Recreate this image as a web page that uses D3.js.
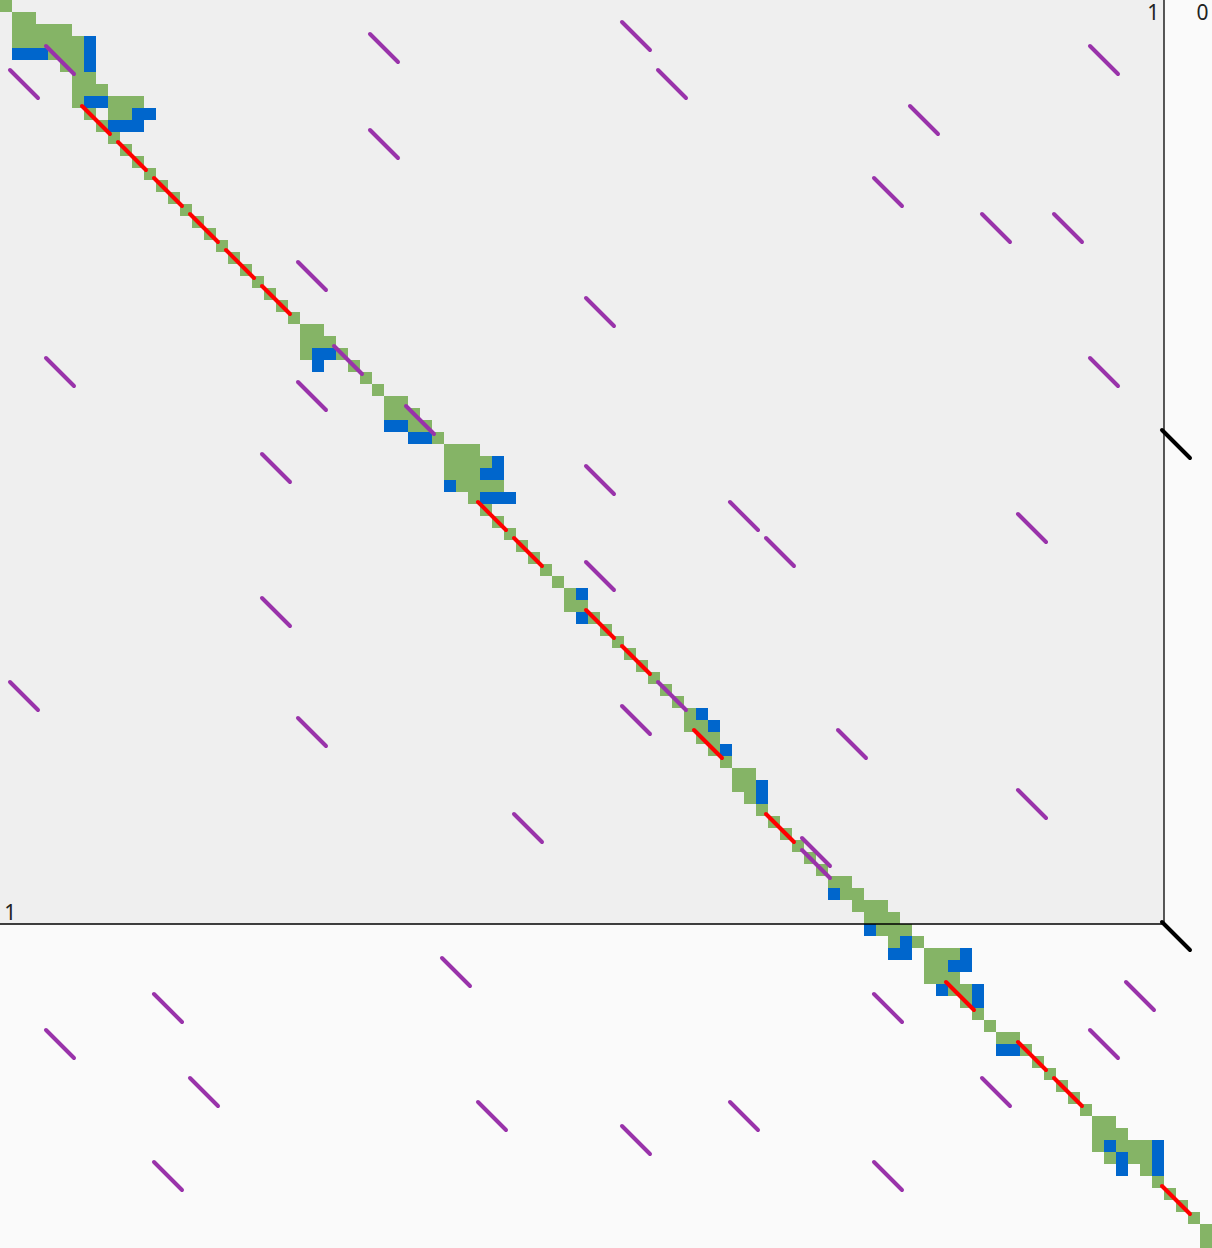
<!DOCTYPE html>
<html><head><meta charset="utf-8">
<script src="https://cdn.jsdelivr.net/npm/d3@7"></script>
<style>html,body{margin:0;padding:0;background:#fafafa;overflow:hidden}</style>
</head><body>
<script>
// grid dimensions (columns x rows)
const nCols = 101, nRows = 104;
const regionCols = 97, regionRows = 77;
// green cells: [row, firstCol, lastCol]
const greenRuns = [
[0,0,0],[1,1,2],[2,1,5],[3,1,6],[4,4,6],[5,5,6],[6,6,7],[7,6,8],[8,6,6],[8,9,11],[9,7,7],[9,9,10],[10,8,8],
[11,9,9],[12,10,10],[13,11,11],[14,12,12],[15,13,13],[16,14,14],[17,15,15],[18,16,16],[19,17,17],[20,18,18],
[21,19,19],[22,20,20],[23,21,21],[24,22,22],[25,23,23],[26,24,24],
[27,25,26],[28,25,27],[29,25,25],[29,28,28],[30,29,29],[31,30,30],[32,31,31],[33,32,33],[34,32,34],[35,34,35],
[36,36,36],[37,37,39],[38,37,40],[39,37,39],[40,38,41],[41,39,39],[42,40,40],[43,41,41],[44,42,42],[45,43,43],
[46,44,44],[47,45,45],[48,46,46],[49,47,47],[50,47,48],[51,49,49],[52,50,50],[53,51,51],[54,52,52],[55,53,53],
[56,54,54],[57,55,55],[58,56,56],[59,57,57],[60,57,58],[61,58,59],[62,59,59],[63,60,60],[64,61,62],[65,61,62],
[66,62,62],[67,63,63],[68,64,64],[69,65,65],[70,66,66],[71,67,67],[72,68,68],[73,69,70],[74,70,71],[75,71,73],
[76,72,74],[77,73,75],[78,74,74],[78,76,76],[79,77,79],[80,77,78],[81,77,79],[82,79,80],[83,80,80],[84,81,81],
[85,82,82],[86,83,84],[87,85,85],[88,86,86],[89,87,87],[90,88,88],[91,89,89],[92,90,90],[93,91,92],[94,91,93],
[95,91,91],[95,93,95],[96,92,92],[96,94,95],[97,95,95],[98,96,96],[99,97,97],[100,98,98],[101,99,99],
[102,100,100],[103,100,100]
];
// blue cells: [row, firstCol, lastCol]
const blueRuns = [
[3,7,7],[4,1,3],[4,7,7],[5,7,7],[8,7,8],[9,11,12],[10,9,11],[29,26,27],[30,26,26],[35,32,33],[36,34,35],
[38,41,41],[39,40,41],[40,37,37],[41,40,42],[49,48,48],[51,48,48],[59,58,58],[60,59,59],[62,60,60],
[65,63,63],[66,63,63],[74,69,69],[77,72,72],[78,75,75],[79,74,75],[79,80,80],[80,79,80],[82,78,78],
[82,81,81],[83,81,81],[87,83,84],[95,92,92],[95,96,96],[96,93,93],[96,96,96],[97,93,93],[97,96,96]
];
// diagonal segments (3 cells long): [col, row]
const redSegs = [[6,8],[9,11],[12,14],[15,17],[18,20],[21,23],[39,41],[42,44],[48,50],[51,53],[57,60],[63,67],
[78,81],[84,86],[87,89],[96,98]];
const purpleSegs = [[30,2],[51,1],[54,5],[90,3],[0,5],[3,3],[75,8],[30,10],[72,14],[81,17],[87,17],[24,21],
[48,24],[3,29],[90,29],[27,28],[24,31],[33,33],[21,37],[48,38],[60,41],[63,44],[84,42],[48,46],[21,49],
[0,56],[51,58],[54,56],[24,59],[69,60],[84,65],[42,67],[66,69],[66,70],[36,79],[12,82],[3,85],[72,82],
[93,81],[90,85],[15,89],[39,91],[60,91],[81,89],[51,93],[12,96],[72,96]];
const blackSegs = [[96,35],[96,76]];
const labels = [
  {t:"1", c:96.6, r:1.65, anchor:"end"},
  {t:"0", c:100.2, r:1.65, anchor:"middle"},
  {t:"1", c:0.35, r:76.7, anchor:"start"}
];

const W = 1212, H = 1248;
const x = d3.scaleLinear().domain([0, nCols]).range([0, W]);
const y = d3.scaleLinear().domain([0, nRows]).range([0, H]);

const svg = d3.select("body").append("svg").attr("width", W).attr("height", H)
  .style("display","block");

svg.append("rect").attr("width", W).attr("height", H).attr("fill", "#fafafa");
svg.append("rect").attr("x", x(0)).attr("y", y(0))
  .attr("width", x(regionCols) - x(0)).attr("height", y(regionRows) - y(0)).attr("fill", "#efefef");

function cells(runs) {
  const out = [];
  runs.forEach(([r, c0, c1]) => { for (let c = c0; c <= c1; c++) out.push([c, r]); });
  return out;
}
svg.append("g").selectAll("rect").data(cells(greenRuns)).join("rect")
  .attr("x", d => x(d[0])).attr("y", d => y(d[1]))
  .attr("width", x(1) - x(0)).attr("height", y(1) - y(0)).attr("fill", "#85b466");
svg.append("g").selectAll("rect").data(cells(blueRuns)).join("rect")
  .attr("x", d => x(d[0])).attr("y", d => y(d[1]))
  .attr("width", x(1) - x(0)).attr("height", y(1) - y(0)).attr("fill", "#0066cc");

// region borders
svg.append("line").attr("x1", x(regionCols)).attr("x2", x(regionCols)).attr("y1", y(0)).attr("y2", y(regionRows))
  .attr("stroke", "#000").attr("stroke-width", 1.3);
svg.append("line").attr("x1", x(0)).attr("x2", x(regionCols)).attr("y1", y(regionRows)).attr("y2", y(regionRows))
  .attr("stroke", "#000").attr("stroke-width", 1.3);

function segs(data, color) {
  svg.append("g").selectAll("line").data(data).join("line")
    .attr("x1", d => x(d[0] + 0.8333)).attr("y1", d => y(d[1] + 0.8333))
    .attr("x2", d => x(d[0] + 3.1667)).attr("y2", d => y(d[1] + 3.1667))
    .attr("stroke", color).attr("stroke-width", 4).attr("stroke-linecap", "round");
}
segs(purpleSegs, "#9933aa");
segs(redSegs, "#ff0000");
segs(blackSegs, "#000000");

svg.append("g").selectAll("text").data(labels).join("text")
  .attr("x", d => x(d.c)).attr("y", d => y(d.r))
  .attr("text-anchor", d => d.anchor)
  .attr("font-family", "Noto Sans, Open Sans, sans-serif").attr("font-size", 21)
  .attr("fill", "#222").text(d => d.t);
</script>
</body></html>
